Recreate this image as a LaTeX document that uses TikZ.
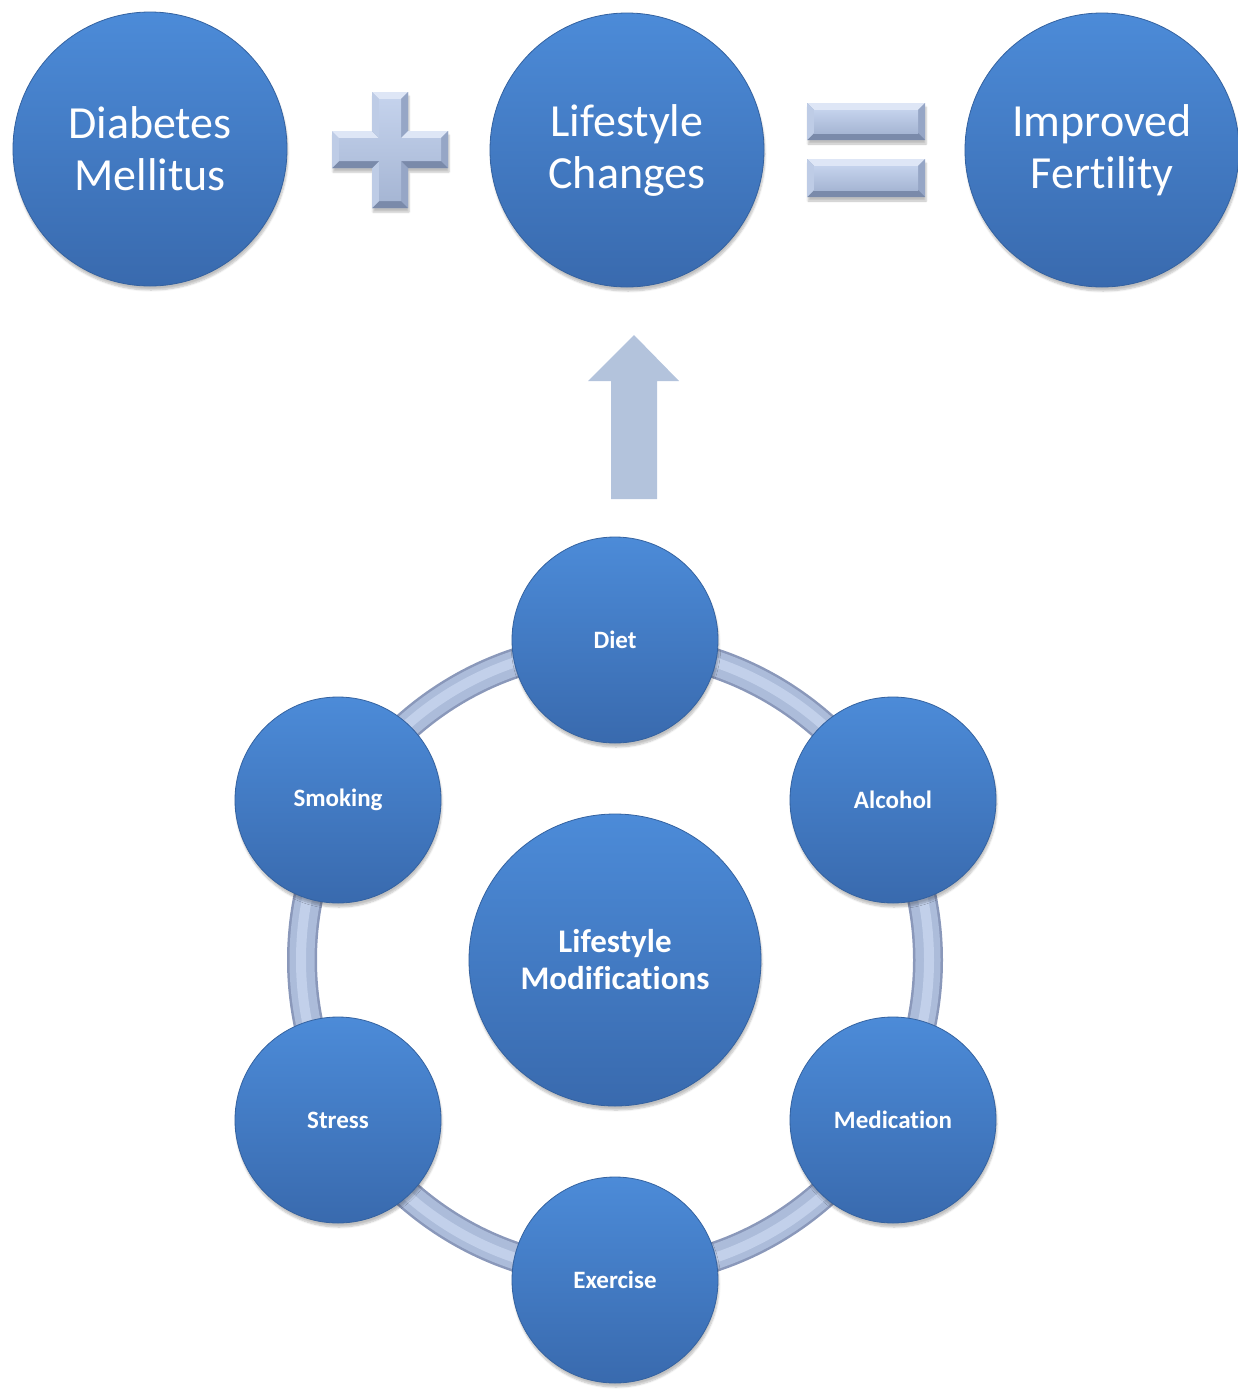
\documentclass[tikz,border=0pt]{standalone}
\usepackage{fontspec}
\setmainfont{Carlito}[Ligatures=NoCommon]
\usetikzlibrary{shadows.blur}
\definecolor{ctop}{RGB}{76,139,216}
\definecolor{cbot}{RGB}{57,106,174}
\definecolor{cedge}{RGB}{52,98,160}
\definecolor{symtop}{RGB}{196,210,236}
\definecolor{symbot}{RGB}{166,182,212}
\definecolor{faclight}{RGB}{222,230,246}
\definecolor{facleft}{RGB}{190,204,230}
\definecolor{facright}{RGB}{150,166,198}
\definecolor{facdark}{RGB}{122,138,170}
\definecolor{arrowc}{RGB}{179,195,220}
\definecolor{ringedge}{RGB}{138,152,186}
\definecolor{ringmid}{RGB}{172,188,218}
\definecolor{ringhi}{RGB}{194,208,234}
\tikzset{
  ball/.style={circle, inner sep=0pt, align=center, text=white,
    top color=ctop, bottom color=cbot, draw=cedge, line width=0.8pt,
    blur shadow={shadow xshift=1pt, shadow yshift=-4pt, shadow blur steps=6, shadow opacity=25}},
  bigball/.style={ball, minimum size=274pt, font=\fontsize{46}{52}\selectfont},
  centerball/.style={ball, minimum size=292pt, font=\bfseries\fontsize{33}{37}\selectfont},
  satball/.style={ball, minimum size=206pt, font=\bfseries\fontsize{25}{30}\selectfont},
  bevelbase/.style={fill=facright,
    blur shadow={shadow xshift=1pt, shadow yshift=-4pt, shadow blur steps=5, shadow opacity=25}},
  bevelface/.style={top color=symtop, bottom color=symbot},
}
\newcommand{\facetquad}[5]{\fill[#1] #2 -- #3 -- #4 -- #5 -- cycle;}
\begin{document}
\begin{tikzpicture}[x=1pt,y=-1pt]
\useasboundingbox (0,0) rectangle (1238,1390);
% top row
\node[bigball] (dm) at (150,149) {Diabetes\\Mellitus};
\node[bigball] (lc) at (627,150) {Lifestyle\\Changes};
\node[bigball] (if) at (1102,150) {Improved\\Fertility};
% plus sign
\path[bevelbase] (372,92) -- (408,92) -- (408,131) -- (448,131) -- (448,168) -- (408,168) -- (408,208) -- (372,208) -- (372,168) -- (332,168) -- (332,131) -- (372,131) -- cycle;
\facetquad{faclight}{(372,92)}{(408,92)}{(401,99)}{(379,99)}
\facetquad{facright}{(408,92)}{(408,131)}{(401,138)}{(401,99)}
\facetquad{faclight}{(408,131)}{(448,131)}{(441,138)}{(401,138)}
\facetquad{facright}{(448,131)}{(448,168)}{(441,161)}{(441,138)}
\facetquad{facdark}{(448,168)}{(408,168)}{(401,161)}{(441,161)}
\facetquad{facright}{(408,168)}{(408,208)}{(401,201)}{(401,161)}
\facetquad{facdark}{(408,208)}{(372,208)}{(379,201)}{(401,201)}
\facetquad{facleft}{(372,208)}{(372,168)}{(379,161)}{(379,201)}
\facetquad{facdark}{(372,168)}{(332,168)}{(339,161)}{(379,161)}
\facetquad{facleft}{(332,168)}{(332,131)}{(339,138)}{(339,161)}
\facetquad{faclight}{(332,131)}{(372,131)}{(379,138)}{(339,138)}
\facetquad{facleft}{(372,131)}{(372,92)}{(379,99)}{(379,138)}
\path[bevelface] (379,99) -- (401,99) -- (401,138) -- (441,138) -- (441,161) -- (401,161) -- (401,201) -- (379,201) -- (379,161) -- (339,161) -- (339,138) -- (379,138) -- cycle;
\coordinate (plus) at (390,150);
% equals sign
\path[bevelbase] (807,103) rectangle (925,140);
\facetquad{faclight}{(807,103)}{(925,103)}{(918,110)}{(814,110)}
\facetquad{facright}{(925,103)}{(925,140)}{(918,133)}{(918,110)}
\facetquad{facdark}{(925,140)}{(807,140)}{(814,133)}{(918,133)}
\facetquad{facleft}{(807,140)}{(807,103)}{(814,110)}{(814,133)}
\path[bevelface] (814,110) rectangle (918,133);
\path[bevelbase] (807,159) rectangle (925,197);
\facetquad{faclight}{(807,159)}{(925,159)}{(918,166)}{(814,166)}
\facetquad{facright}{(925,159)}{(925,197)}{(918,190)}{(918,166)}
\facetquad{facdark}{(925,197)}{(807,197)}{(814,190)}{(918,190)}
\facetquad{facleft}{(807,197)}{(807,159)}{(814,166)}{(814,190)}
\path[bevelface] (814,166) rectangle (918,190);
\coordinate (eq) at (866,150);
% up arrow
\coordinate (arrowbase) at (634,499);
\fill[arrowc] (611,499) -- (611,381) -- (588,381) -- (634,335) -- (679,381) -- (657,381) -- (657,499) -- cycle;
% ring
\coordinate (rc) at (615,960);
\draw[ringedge, line width=30pt] (rc) circle[radius=313];
\draw[ringmid, line width=25pt] (rc) circle[radius=313];
\draw[ringhi, line width=10pt] (rc) circle[radius=314];
% centre and satellites
\node[centerball] (lm) at (615,960) {Lifestyle\\Modifications};
\node[satball] (diet) at (615,640) {Diet};
\node[satball] (alcohol) at (893,800) {Alcohol};
\node[satball] (medication) at (893,1120) {Medication};
\node[satball] (exercise) at (615,1280) {Exercise};
\node[satball] (stress) at (338,1120) {Stress};
\node[satball] (smoking) at (338,800) {Smoking};
\end{tikzpicture}
\end{document}
